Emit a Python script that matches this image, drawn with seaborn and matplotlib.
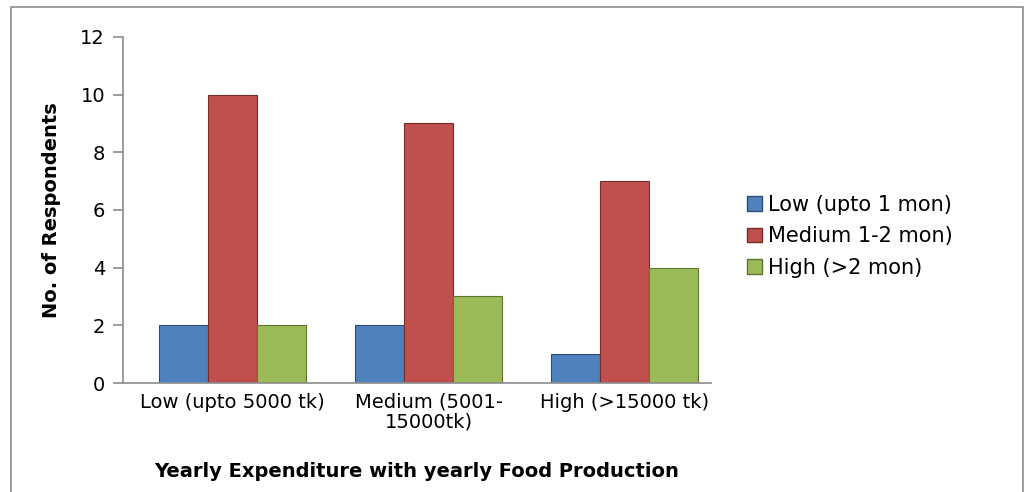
import matplotlib
matplotlib.use("Agg")
import matplotlib.pyplot as plt
import seaborn as sns
import pandas as pd
from matplotlib.patches import Rectangle

categories = ["Low (upto 5000 tk)", "Medium (5001-\n15000tk)", "High (>15000 tk)"]
series_names = ["Low (upto 1 mon)", "Medium 1-2 mon)", "High (>2 mon)"]
low_vals = [2, 2, 1]
medium_vals = [10, 9, 7]
high_vals = [2, 3, 4]
yticks = [0, 2, 4, 6, 8, 10, 12]

colors = ["#4F81BD", "#C0504D", "#9BBB59"]
edges = ["#2C4D75", "#772C2A", "#5F7530"]

rows = []
for s, vals in zip(series_names, [low_vals, medium_vals, high_vals]):
    for c, v in zip(categories, vals):
        rows.append({"cat": c, "series": s, "value": v})
df = pd.DataFrame(rows)

sns.set_style("white")
plt.rcParams["font.family"] = ["DejaVu Sans"]
plt.rcParams["text.color"] = "black"
plt.rcParams["axes.labelcolor"] = "black"
plt.rcParams["xtick.labelcolor"] = "black"
plt.rcParams["ytick.labelcolor"] = "black"

fig = plt.figure(figsize=(10.26, 4.92), dpi=100)
ax = fig.add_axes([0.12, 0.2215, 0.573, 0.7035])

sns.barplot(data=df, x="cat", y="value", hue="series", order=categories,
            hue_order=series_names, palette=colors, width=0.75, gap=0,
            saturation=1, ax=ax, legend=True)

for cont, ec in zip(ax.containers, edges):
    for bar in cont:
        bar.set_edgecolor(ec)
        bar.set_linewidth(0.8)

ax.set_ylim(0, 12)
ax.set_yticks(yticks)
ax.set_xlim(-0.56, 2.44)
ax.tick_params(axis="y", labelsize=14, length=7, width=1.2, color="#8C8C8C",
               direction="out", pad=6, left=True, labelcolor="black")
ax.tick_params(axis="x", labelsize=14, length=0, pad=7, labelcolor="black")
for lbl in ax.get_xticklabels():
    lbl.set_linespacing(1.05)
for sp in ["top", "right"]:
    ax.spines[sp].set_visible(False)
for sp in ["left", "bottom"]:
    ax.spines[sp].set_color("#8C8C8C")
    ax.spines[sp].set_linewidth(1.2)

ax.set_ylabel("No. of Respondents", fontsize=14, fontweight="bold", labelpad=14,
              color="black")
ax.set_xlabel("Yearly Expenditure with yearly Food Production", fontsize=14,
              fontweight="bold", labelpad=22, color="black")

leg = ax.legend(loc="center left", bbox_to_anchor=(0.72, 0.52),
                bbox_transform=fig.transFigure, frameon=False, fontsize=15,
                handlelength=0.7, handleheight=0.7, handletextpad=0.3,
                labelspacing=0.55, borderaxespad=0)
for t in leg.get_texts():
    t.set_color("black")
for h, ec in zip(leg.legend_handles, edges):
    h.set_edgecolor(ec)

fig.patches.append(Rectangle((11 / 1026, -0.1), (1023 - 11) / 1026, 1.1 - 7 / 492,
                             transform=fig.transFigure, fill=False,
                             edgecolor="#8C8C8C", linewidth=1.2, zorder=-1))

fig.savefig("out.png", dpi=100)
